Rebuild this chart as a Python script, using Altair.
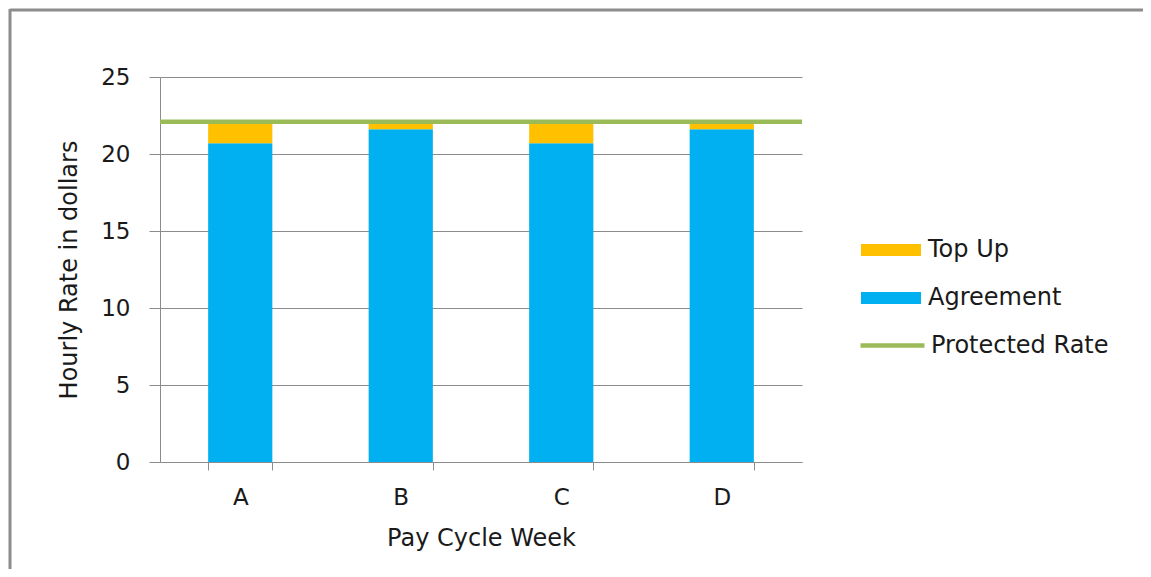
import altair as alt
import pandas as pd

weeks = ["A", "B", "C", "D"]
agreement = [20.7, 21.6, 20.7, 21.6]
top_up = [1.4, 0.5, 1.4, 0.5]
protected_rate = [22.1]
series_names = ["Top Up", "Agreement"]
series_colors = ["#FFC000", "#00B0F0"]
line_name = ["Protected Rate"]
line_color = ["#9BBB59"]
y_ticks = [0, 5, 10, 15, 20, 25]

rows = []
for w, a, t in zip(weeks, agreement, top_up):
    rows.append({"week": w, "series": "Agreement", "value": a, "stackorder": 0})
    rows.append({"week": w, "series": "Top Up", "value": t, "stackorder": 1})
bars_df = pd.DataFrame(rows)
line_df = pd.DataFrame({"series": line_name, "value": protected_rate})
frame_df = pd.DataFrame({"k": [0]})

FONT = "DejaVu Sans"
TEXT = "#1a1a1a"
GRID = "#8c8c8c"
FS = 23
FS2 = 24

x_enc = alt.X(
    "week:N", sort=weeks, title="Pay Cycle Week",
    scale=alt.Scale(paddingInner=0.6, paddingOuter=0.3),
    axis=alt.Axis(labelAngle=0, tickBand="extent", tickSize=8, labelPadding=16,
                  titlePadding=17, domainColor=GRID, tickColor=GRID, grid=False,
                  labelFontSize=FS, titleFontSize=FS2, labelColor=TEXT, titleColor=TEXT,
                  labelFont=FONT, titleFont=FONT, titleFontWeight="normal"),
)
y_enc = alt.Y(
    "value:Q", title="Hourly Rate in dollars", stack="zero",
    scale=alt.Scale(domain=[0, 25], nice=False),
    axis=alt.Axis(values=y_ticks, tickSize=11, labelPadding=19, titlePadding=19,
                  domainColor=GRID, tickColor=GRID, gridColor=GRID, grid=True,
                  labelFontSize=FS, titleFontSize=FS2, labelColor=TEXT, titleColor=TEXT,
                  labelFont=FONT, titleFont=FONT, titleFontWeight="normal"),
)

bars = alt.Chart(bars_df).mark_bar().encode(
    x=x_enc,
    y=y_enc,
    fill=alt.Fill("series:N", scale=alt.Scale(domain=series_names, range=series_colors),
                  legend=alt.Legend(orient="none", legendX=701, legendY=143, title=None,
                                    symbolType="M-1,-0.2H1V0.2H-1Z", symbolSize=3600,
                                    symbolStrokeWidth=0, labelFontSize=FS2, labelFont=FONT,
                                    labelColor=TEXT, labelOffset=7, rowPadding=6,
                                    labelLimit=0)),
    order=alt.Order("stackorder:Q"),
)

line = alt.Chart(line_df).mark_rule(strokeWidth=4.5).encode(
    y=alt.Y("value:Q"),
    stroke=alt.Stroke("series:N", scale=alt.Scale(domain=line_name, range=line_color),
                      legend=alt.Legend(orient="none", legendX=698, legendY=234, title=None,
                                        symbolType="stroke", symbolSize=4096,
                                        symbolStrokeWidth=4.5, labelFontSize=FS2,
                                        labelFont=FONT, labelColor=TEXT, labelOffset=4,
                                        labelLimit=0)),
)

frame_top = alt.Chart(frame_df).mark_rule(color="#8c8c8c", strokeWidth=3).encode(
    x=alt.value(-150), x2=alt.value(983), y=alt.value(-67)
)
frame_left = alt.Chart(frame_df).mark_rule(color="#8c8c8c", strokeWidth=3).encode(
    x=alt.value(-150), y=alt.value(-68), y2=alt.value(492)
)

chart = alt.layer(bars, line, frame_top, frame_left).resolve_scale(
    fill="independent", stroke="independent"
).properties(
    width=642, height=385,
    background="white",
    autosize=alt.AutoSizeParams(type="none"),
    padding={"left": 152, "top": 69, "right": 341, "bottom": 107},
).configure_view(stroke=None)

chart.save("out.html", embed_options={"renderer": "svg", "actions": False})
